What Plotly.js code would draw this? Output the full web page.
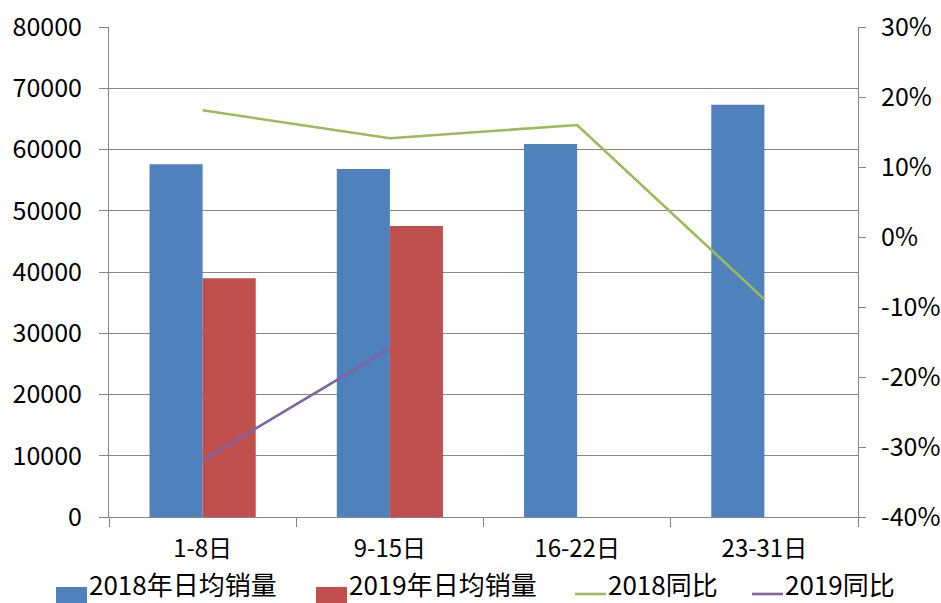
<!DOCTYPE html>
<html>
<head>
<meta charset="utf-8">
<script src="https://cdn.plot.ly/plotly-3.0.1.min.js"></script>
<style>html,body{margin:0;padding:0;background:#fff;}#chart{width:941px;height:603px;}</style>
</head>
<body>
<div id="chart"></div>
<script>
// Daily average sales by period, with year-on-year change
const periods = ['1-8日', '9-15日', '16-22日', '23-31日'];
const sales2018 = [57600, 56800, 60900, 67300];
const sales2019 = [39000, 47500, null, null];
const yoy2018 = [0.181, 0.141, 0.160, -0.089];
const yoy2019 = [-0.319, -0.159, null, null];
const leftTicks = [0, 10000, 20000, 30000, 40000, 50000, 60000, 70000, 80000];
const rightTicks = [-0.4, -0.3, -0.2, -0.1, 0, 0.1, 0.2, 0.3];
const rightTickText = ['-40%', '-30%', '-20%', '-10%', '0%', '10%', '20%', '30%'];

const FONT = '"Noto Sans CJK SC", "Noto Sans", sans-serif';
const GRID = '#868686';

const traces = [
  {type: 'bar', name: '2018年日均销量', x: periods, y: sales2018,
   marker: {color: '#4F81BD'}},
  {type: 'bar', name: '2019年日均销量', x: periods, y: sales2019,
   marker: {color: '#C0504D'}},
  {type: 'scatter', mode: 'lines', name: '2018同比', x: periods, y: yoy2018,
   yaxis: 'y2', line: {color: '#9BBB59', width: 2.6}},
  {type: 'scatter', mode: 'lines', name: '2019同比', x: periods, y: yoy2019,
   yaxis: 'y2', line: {color: '#8064A2', width: 2.6}}
];

// Plot area in pixels, used to place the legend row below the axes
const M = {l: 109, r: 83, t: 27, b: 86};
const W = 941, H = 603;
const plotW = W - M.l - M.r, plotH = H - M.t - M.b;
const px = v => (v - M.l) / plotW;
const py = v => (H - M.b - v) / plotH;

// Legend row: left pixel of each key symbol
const keyLeft = [56, 316, 575, 752];
const shapes = [], annotations = [];
traces.forEach((t, i) => {
  const x0 = keyLeft[i], x1 = x0 + 31;
  if (t.type === 'bar') {
    shapes.push({type: 'rect', xref: 'paper', yref: 'paper',
      x0: px(x0), x1: px(x1), y0: py(587), y1: py(604),
      fillcolor: t.marker.color, line: {width: 0}});
  } else {
    shapes.push({type: 'line', xref: 'paper', yref: 'paper',
      x0: px(x0), x1: px(x1), y0: py(594), y1: py(594),
      line: {color: t.line.color, width: 2.6}});
  }
  annotations.push({xref: 'paper', yref: 'paper', x: px(x1 + 1), y: py(603),
    xanchor: 'left', yanchor: 'bottom', showarrow: false, text: t.name,
    font: {family: FONT, size: 26, color: '#000'}, borderpad: 0});
});

const layout = {
  width: W, height: H,
  margin: {l: M.l, r: M.r, t: M.t, b: M.b, pad: 0},
  paper_bgcolor: '#fff', plot_bgcolor: '#fff',
  font: {family: FONT, size: 25, color: '#000'},
  barmode: 'group', bargap: 0.433, bargroupgap: 0,
  showlegend: false,
  shapes: shapes, annotations: annotations,
  xaxis: {type: 'category', showline: true, linecolor: GRID, linewidth: 1,
          ticks: 'outside', tickson: 'boundaries', ticklen: 9, tickcolor: GRID,
          ticklabelstandoff: 10,
          showgrid: false, zeroline: false, fixedrange: true,
          tickfont: {family: FONT, size: 24}},
  yaxis: {range: [0, 80000], tickvals: leftTicks, tickformat: 'd',
          showline: true, linecolor: GRID, linewidth: 1,
          ticks: 'outside', ticklen: 9, tickcolor: GRID, ticklabelstandoff: 12,
          showgrid: true, gridcolor: GRID, gridwidth: 1, zeroline: false,
          tickfont: {family: FONT, size: 25}},
  yaxis2: {overlaying: 'y', side: 'right', range: [-0.4, 0.3],
           tickvals: rightTicks, ticktext: rightTickText,
           showline: true, linecolor: GRID, linewidth: 1,
           ticks: 'outside', ticklen: 7, tickcolor: GRID, ticklabelstandoff: 10,
           showgrid: false, zeroline: false,
           tickfont: {family: FONT, size: 25}}
};

Plotly.newPlot('chart', traces, layout, {displayModeBar: false, staticPlot: true});
</script>
</body>
</html>
